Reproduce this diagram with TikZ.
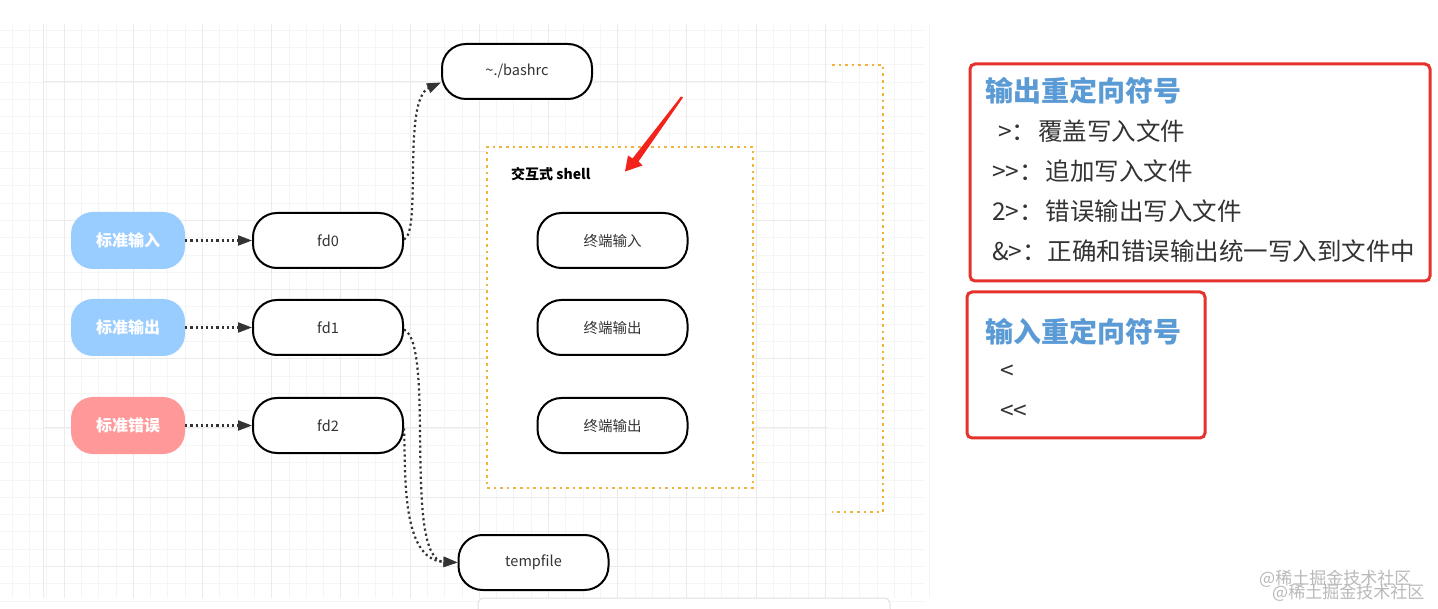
\documentclass[tikz,border=0pt]{standalone}
\usepackage{fontspec}
\setmainfont{Noto Sans CJK SC}
\usetikzlibrary{arrows.meta,calc}
\definecolor{txt}{HTML}{333333}
\definecolor{stdblue}{HTML}{99CCFF}
\definecolor{stdred}{HTML}{FF9999}
\definecolor{dotorange}{HTML}{F0B43C}
\definecolor{boxred}{HTML}{E5322D}
\definecolor{titleblue}{HTML}{5B9BD5}
\definecolor{arrowred}{HTML}{F2231B}
\tikzset{
  stdbox/.style={rounded corners=22pt, minimum width=114pt, minimum height=57pt, inner sep=0pt,
    text=white, font=\fontsize{16pt}{18pt}\selectfont\bfseries},
  pill/.style={draw=black, line width=2pt, fill=white, rounded corners=24pt, minimum width=150pt,
    minimum height=55pt, inner sep=0pt, font=\fontsize{14.5pt}{17pt}\selectfont, text=txt},
  conn/.style={draw=txt, line width=2.2pt, dash pattern=on 2.2pt off 3pt,
    -{Triangle[length=14pt,width=10pt]}},
  orangedot/.style={draw=dotorange, line width=2.6pt, dash pattern=on 2.6pt off 4pt},
  redframe/.style={draw=boxred, line width=3pt, rounded corners=5pt},
  rtitle/.style={anchor=west, inner sep=0pt, text=titleblue, font=\fontsize{28pt}{32pt}\selectfont\bfseries},
  rline/.style={anchor=west, inner sep=0pt, text=txt, font=\fontsize{24.5pt}{28pt}\selectfont},
  wmark/.style={anchor=west, inner sep=0pt, text=gray!55, font=\fontsize{17pt}{19pt}\selectfont}
}
\begin{document}
\begin{tikzpicture}[x=1pt,y=-1pt]
\useasboundingbox[fill=white] (0,0) rectangle (1438,609);
% background grid
\foreach \k in {-3,...,50} {
  \pgfmathsetmacro{\xx}{64+17.3*\k}
  \draw[black!4, line width=0.8pt] (\xx,24) -- (\xx,598);
}
\foreach \k in {-3,...,30} {
  \pgfmathsetmacro{\yy}{82+17.3*\k}
  \draw[black!4, line width=0.8pt] (0,\yy) -- (925,\yy);
}
\foreach \k in {0,...,11} {
  \pgfmathsetmacro{\xx}{64+69.2*\k}
  \draw[black!8, line width=1pt] (\xx,24) -- (\xx,598);
}
\foreach \k in {0,...,7} {
  \pgfmathsetmacro{\yy}{82+69.2*\k}
  \draw[black!8, line width=1pt] (43,\yy) -- (828,\yy);
}
\draw[black!8, line width=1pt] (43,24) -- (43,598);
% bottom card
\begin{scope}
\clip (0,0) rectangle (1438,609);
\draw[black!12, line width=1pt, fill=white, rounded corners=6pt] (478,598) rectangle (890,640);
\end{scope}

% interactive shell container
\node[orangedot, fill=white, minimum width=266pt, minimum height=341pt, inner sep=0pt] (shell) at (620,317.5) {};
\node[anchor=west, inner sep=0pt, text=black, font=\fontsize{14pt}{16pt}\selectfont\bfseries] (shelllabel) at (511,174) {交互式 shell};
% bracket
\coordinate (b1) at (832,65);
\coordinate (b2) at (883,65);
\coordinate (b3) at (883,512);
\coordinate (b4) at (832,512);
\draw[orangedot] (b1) -- (b2) -- (b3) -- (b4);

% left nodes
\node[stdbox, fill=stdblue] (in) at (128,240.5) {标准输入};
\node[stdbox, fill=stdblue] (out) at (128,327.5) {标准输出};
\node[stdbox, fill=stdred] (err) at (128,425.5) {标准错误};

\node[pill] (fd0) at (328,240.5) {fd0};
\node[pill] (fd1) at (328,327.5) {fd1};
\node[pill] (fd2) at (328,425.5) {fd2};

\node[pill] (bashrc) at (517,71.5) {\textasciitilde./bashrc};
\node[pill] (temp) at (533.5,562.5) {tempfile};

\node[pill] (t1) at (612.5,240.5) {终端输入};
\node[pill] (t2) at (612.5,327.5) {终端输出};
\node[pill] (t3) at (612.5,425.5) {终端输出};

% connectors
\draw[conn] (in.east) -- (fd0.west);
\draw[conn] (out.east) -- (fd1.west);
\draw[conn] (err.east) -- (fd2.west);
\coordinate (bashin) at ($(bashrc.west)+(0,11)$);
\coordinate (tempin) at (temp.west);
\draw[conn] ($(fd0.east)+(0,-1)$) .. controls (422,232) and (402,100) .. (bashin);
\draw[conn] ($(fd1.east)+(0,2)$) .. controls (436,345) and (402,560) .. (tempin);
\draw[conn] ($(fd2.east)+(0,3)$) .. controls (406,470) and (400,560) .. (tempin);

% red arrow
\fill[arrowred] (683,97.5) -- (638.5,161.5) -- (642.5,165.5) -- (625,171.5) -- (628,155.5) -- (632.5,158.5) -- (681,96.5) -- cycle;

% right panel
\draw[redframe] (970,64) rectangle (1430,281);
\draw[redframe] (967,292) rectangle (1205,438);
\node[rtitle] (ot) at (985,91) {输出重定向符号};
\node[rline] (o1) at (998,131) {>：\hspace{2pt}覆盖写入文件};
\node[rline] (o2) at (992,171) {>\kern0pt>：\hspace{2pt}追加写入文件};
\node[rline] (o3) at (992,211) {2>：\hspace{2pt}错误输出写入文件};
\node[rline] (o4) at (992,251) {\&>：\hspace{1pt}正确和错误输出统一写入到文件中};
\node[rtitle] (it) at (985,332) {输入重定向符号};
\node[rline] (i1) at (1000,372) {<};
\node[rline] (i2) at (1000,412) {<\kern0pt<};

% watermark
\node[wmark] (w1) at (1259,579) {@稀土掘金技术社区};
\node[wmark] (w2) at (1272,593) {@稀土掘金技术社区};
\end{tikzpicture}
\end{document}
